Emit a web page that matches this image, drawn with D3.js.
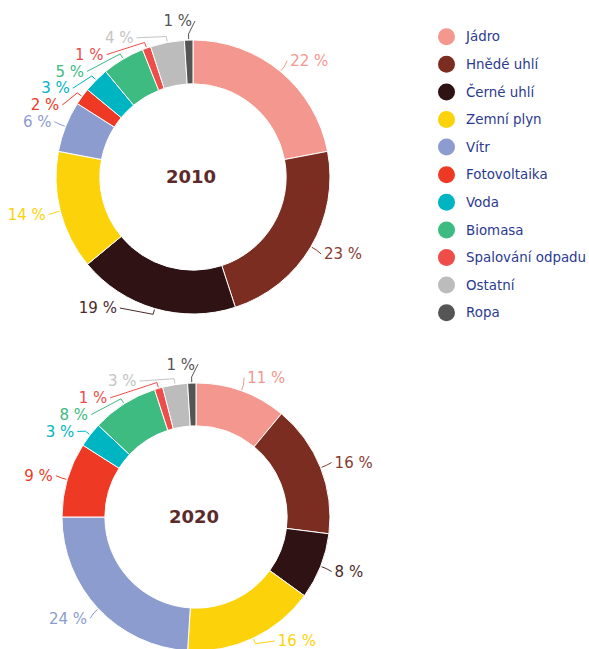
<!DOCTYPE html>
<html lang="cs">
<head>
<meta charset="utf-8">
<script src="https://d3js.org/d3.v7.min.js"></script>
<style>
  body { margin: 0; background: #fff; }
  text { font-family: "DejaVu Sans", Verdana, sans-serif; }
</style>
</head>
<body>
<script>
  // data
  var categories = ["Jádro", "Hnědé uhlí", "Černé uhlí", "Zemní plyn", "Vítr", "Fotovoltaika",
                    "Voda", "Biomasa", "Spalování odpadu", "Ostatní", "Ropa"];
  var years = ["2010", "2020"];
  var values2010 = [22, 23, 19, 14, 6, 2, 3, 5, 1, 4, 1];
  var values2020 = [11, 16, 8, 16, 24, 9, 3, 8, 1, 3, 1];

  var colors = ["#f4978e", "#7b2d22", "#2e1214", "#fcd20a", "#8c9ccf", "#ee3a24",
                "#00b5c2", "#3dbb80", "#ef4d4a", "#bcbcbc", "#555555"];
  var labelColors = ["#f4978e", "#8a3a30", "#4a2a2c", "#fcd20a", "#8c9ccf", "#ee3a24",
                     "#00b5c2", "#3dbb80", "#ef4d4a", "#c4c4c4", "#555555"];

  var width = 589, height = 649;

  var svg = d3.select('body')
    .append('svg')
    .attr('width', width)
    .attr('height', height);

  function drawDonut(year, values, cx, cy, r) {
    var g = svg.append('g').attr('transform', 'translate(' + cx + ',' + cy + ')');
    var arcs = d3.pie().sort(null).value(function(d) { return d; })(values);
    var arc = d3.arc().innerRadius(r * 0.68).outerRadius(r);

    g.selectAll('path.slice')
      .data(arcs)
      .join('path')
      .attr('class', 'slice')
      .attr('d', arc)
      .attr('fill', function(d, i) { return colors[i]; })
      .attr('stroke', '#fff')
      .attr('stroke-width', 1);

    // label layout: natural spot on a circle, then push apart per side
    var rl = r + 14, gap = 16.8;
    var maxY = Math.min(r - 6, height - 8 - cy);
    var labels = arcs.map(function(d, i) {
      var a = (d.startAngle + d.endAngle) / 2;
      var y0 = -rl * Math.cos(a);
      return { i: i, a: a, side: Math.sin(a) >= 0 ? 1 : -1, y0: y0, y: y0, value: values[i] };
    });

    [-1, 1].forEach(function(side) {
      var list = labels.filter(function(l) { return l.side === side; })
        .sort(function(a, b) { return a.y0 - b.y0; });
      for (var k = 1; k < list.length; k++) {
        if (list[k].y < list[k - 1].y + gap) list[k].y = list[k - 1].y + gap;
      }
      // shift touching groups up a bit
      var start = 0;
      for (var k = 1; k <= list.length; k++) {
        if (k === list.length || list[k].y - list[k - 1].y > gap + 0.01) {
          var grp = list.slice(start, k);
          var m = d3.mean(grp, function(l) { return l.y - l.y0; });
          grp.forEach(function(l) { l.y -= 0.3 * m; });
          start = k;
        }
      }
      list.forEach(function(l) { l.y = Math.min(l.y, maxY); });
    });

    labels.forEach(function(l) {
      var dx = Math.sqrt(Math.max(0, rl * rl - l.y * l.y));
      l.x = l.side * dx;
    });

    g.selectAll('polyline.leader')
      .data(labels)
      .join('polyline')
      .attr('class', 'leader')
      .attr('fill', 'none')
      .attr('stroke', function(d) { return labelColors[d.i]; })
      .attr('stroke-width', 1)
      .attr('points', function(d) {
        var p0 = [Math.sin(d.a) * (r + 1), -Math.cos(d.a) * (r + 1)];
        var p1 = [Math.sin(d.a) * (r + 6), -Math.cos(d.a) * (r + 6)];
        var p2 = [d.x - d.side * 2, d.y];
        return [p0, p1, p2].map(function(p) { return p.join(','); }).join(' ');
      });

    g.selectAll('text.lbl')
      .data(labels)
      .join('text')
      .attr('class', 'lbl')
      .attr('x', function(d) { return d.x + d.side * 1; })
      .attr('y', function(d) { return d.y; })
      .attr('dy', '0.35em')
      .attr('text-anchor', function(d) { return d.side > 0 ? 'start' : 'end'; })
      .style('font-size', '15px')
      .attr('fill', function(d) { return labelColors[d.i]; })
      .text(function(d) { return d.value + ' %'; });

    g.append('text')
      .attr('x', -2)
      .attr('y', 0)
      .attr('dy', '0.35em')
      .attr('text-anchor', 'middle')
      .style('font-size', '18px')
      .style('font-weight', 'bold')
      .attr('fill', '#5c2a2a')
      .text(year);
  }

  drawDonut(years[0], values2010, 193, 177, 137);
  drawDonut(years[1], values2020, 196, 517, 134);

  // legend
  var legend = svg.append('g').attr('transform', 'translate(446.5,36.7)');
  var item = legend.selectAll('g.item')
    .data(categories)
    .join('g')
    .attr('class', 'item')
    .attr('transform', function(d, i) { return 'translate(0,' + (i * 27.6) + ')'; });
  item.append('circle')
    .attr('r', 8.5)
    .attr('fill', function(d, i) { return colors[i]; });
  item.append('text')
    .attr('x', 19.5)
    .attr('dy', '0.35em')
    .style('font-size', '13.4px')
    .attr('fill', '#2b3990')
    .text(function(d) { return d; });
</script>
</body>
</html>
